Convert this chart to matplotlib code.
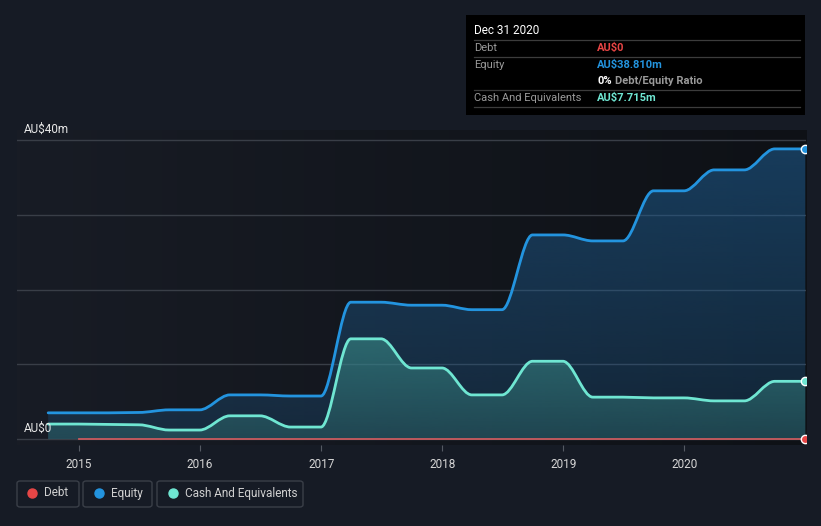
import numpy as np
import matplotlib
matplotlib.use("Agg")
import matplotlib.pyplot as plt
from matplotlib.path import Path
from matplotlib.patches import PathPatch, FancyBboxPatch, Rectangle
from matplotlib.lines import Line2D
from matplotlib.colors import to_rgb
import matplotlib.dates as mdates

plt.rcParams['font.family'] = ['Roboto', 'DejaVu Sans']

# ---------------- data ----------------
dates = ["2014-09-30", "2014-12-31", "2015-03-31", "2015-06-30", "2015-09-30", "2015-12-31",
         "2016-03-31", "2016-06-30", "2016-09-30", "2016-12-31", "2017-03-31", "2017-06-30",
         "2017-09-30", "2017-12-31", "2018-03-31", "2018-06-30", "2018-09-30", "2018-12-31",
         "2019-03-31", "2019-06-30", "2019-09-30", "2019-12-31", "2020-03-31", "2020-06-30",
         "2020-09-30", "2020-12-31"]
equity = [3.5, 3.5, 3.5, 3.55, 3.9, 3.9, 5.9, 5.9, 5.75, 5.75, 18.3, 18.3, 17.9, 17.9,
          17.3, 17.3, 27.3, 27.3, 26.5, 26.5, 33.2, 33.2, 36.0, 36.0, 38.81, 38.81]
cash = [2.0, 2.0, 1.95, 1.9, 1.2, 1.2, 3.1, 3.1, 1.6, 1.6, 13.4, 13.4, 9.5, 9.5,
        5.9, 5.9, 10.4, 10.4, 5.6, 5.6, 5.5, 5.5, 5.1, 5.1, 7.715, 7.715]
debt_dates = dates[1:]
debt = [0.0] * len(debt_dates)
year_ticks = [2015, 2016, 2017, 2018, 2019, 2020]
y_labels = {0: "AU$0", 40: "AU$40m"}
grid_values = [0, 10, 20, 30, 40]

# ---------------- style ----------------
BG = "#161b25"
EQ = "#2394df"
CASH = "#6fe6d2"
DEBT = "#e64646"
W, H = 821, 526

def d2n(s):
    return mdates.date2num(np.datetime64(s))

fig = plt.figure(figsize=(W / 100, H / 100), dpi=100, facecolor=BG)

def fx(px):
    return px / W

def fy(py):
    return 1 - py / H

ax_left, ax_right, ax_top, ax_bot = 17, 806, 130, 445
ax = fig.add_axes([fx(ax_left), fy(ax_bot), fx(ax_right - ax_left), (ax_bot - ax_top) / H])
ax.set_facecolor(BG)
for s in ax.spines.values():
    s.set_visible(False)

px_per_m = (439 - 140) / 40.0
ymin = -(ax_bot - 439) / px_per_m
ymax = (439 - ax_top) / px_per_m
xn = np.array([d2n(d) for d in dates])
px_per_day = (684.3 - 79.0) / (d2n("2020-01-01") - d2n("2015-01-01"))
x_start = d2n("2015-01-01") - (79.0 - ax_left) / px_per_day
x_stop = x_start + (ax_right - ax_left) / px_per_day

# background horizontal gradient
c0 = np.array(to_rgb("#181c25"))
c1 = np.array(to_rgb("#0e1116"))
t = np.linspace(0, 1, 256)
bg = (c0[None, :] * (1 - t[:, None]) + c1[None, :] * t[:, None])[None, :, :]
ax.imshow(bg, extent=[0, 1, 0, 1], transform=ax.transAxes, aspect='auto', zorder=0)

# grid
for g in grid_values:
    ax.axhline(g, color="#393e47", lw=1.0, zorder=1)

def curve_path(x, y, close=False):
    verts = [(x[0], y[0])]
    codes = [Path.MOVETO]
    for i in range(len(x) - 1):
        dx = (x[i + 1] - x[i]) / 3.0
        verts += [(x[i] + dx, y[i]), (x[i + 1] - dx, y[i + 1]), (x[i + 1], y[i + 1])]
        codes += [Path.CURVE4] * 3
    if close:
        verts += [(x[-1], 0), (x[0], 0), (x[0], y[0])]
        codes += [Path.LINETO, Path.LINETO, Path.CLOSEPOLY]
    return Path(verts, codes)

def gradient_fill(x, y, color, a_top, a_bot, z):
    patch = PathPatch(curve_path(x, y, close=True), facecolor='none', edgecolor='none', zorder=z)
    ax.add_patch(patch)
    rgb = np.array(to_rgb(color))
    n = 256
    alpha = np.linspace(a_bot, a_top, n)
    img = np.zeros((n, 1, 4))
    img[:, 0, :3] = rgb
    img[:, 0, 3] = alpha
    top = max(y)
    im = ax.imshow(img, extent=[x[0], x[-1], 0, top], origin='lower', aspect='auto', zorder=z)
    im.set_clip_path(patch)

eq = np.array(equity)
ca = np.array(cash)
gradient_fill(xn, eq, "#1f5f94", 0.55, 0.25, 2)
gradient_fill(xn, ca, "#3a8c88", 0.6, 0.3, 3)

ax.add_patch(PathPatch(curve_path(xn, eq), facecolor='none', edgecolor=EQ, lw=2.0, zorder=5,
                       capstyle='round', joinstyle='round'))
ax.add_patch(PathPatch(curve_path(xn, ca), facecolor='none', edgecolor=CASH, lw=2.0, zorder=6,
                       capstyle='round', joinstyle='round'))
dn = np.array([d2n(d) for d in debt_dates])
ax.plot(dn, debt, color="#c95a5e", lw=1.3, zorder=7)

# end markers
ax.plot([xn[-1]], [eq[-1]], 'o', ms=6, mfc=EQ, mec='white', mew=1.0, zorder=9, clip_on=True)
ax.plot([xn[-1]], [ca[-1]], 'o', ms=6, mfc=CASH, mec='white', mew=1.0, zorder=9, clip_on=True)
ax.plot([dn[-1]], [debt[-1]], 'o', ms=6, mfc=DEBT, mec='white', mew=1.0, zorder=9, clip_on=True)

ax.set_xlim(x_start, x_stop)
ax.set_ylim(ymin, ymax)
ax.set_yticks([])
ticks = [d2n(f"{y}-01-01") for y in year_ticks]
ax.set_xticks(ticks)
ax.set_xticklabels([str(y) for y in year_ticks], color="#d6d6d6", fontsize=8.5)
ax.tick_params(axis='x', length=4, width=0.8, color="#555a63", pad=5)
ax.xaxis.set_ticks_position('bottom')

# y labels
for v, lab in y_labels.items():
    py = 439 - v * px_per_m - 11
    fig.text(fx(24), fy(py), lab, color="#e8e8e8", fontsize=8.5, ha='left', va='center')

# ---------------- tooltip ----------------
fig.patches.append(Rectangle((fx(466), fy(115)), fx(805 - 466), (115 - 15) / H,
                             transform=fig.transFigure, facecolor="#000000", edgecolor='none', zorder=10))
fig.text(fx(474), fy(31), "Dec 31 2020", color="white", fontsize=8.5, ha='left', va='center', zorder=11)
for ly in [40, 57, 90, 107]:
    fig.add_artist(Line2D([fx(474), fx(800)], [fy(ly), fy(ly)], color="#3c3c3c", lw=0.9, zorder=11))
LBL = "#9a9a9a"
fig.text(fx(474), fy(48), "Debt", color=LBL, fontsize=8, ha='left', va='center', zorder=11)
fig.text(fx(597), fy(48), "AU$0", color="#e84545", fontsize=8, fontweight='bold', ha='left', va='center', zorder=11)
fig.text(fx(474), fy(65), "Equity", color=LBL, fontsize=8, ha='left', va='center', zorder=11)
fig.text(fx(597), fy(65), "AU$38.810m", color=EQ, fontsize=8, fontweight='bold', ha='left', va='center', zorder=11)
fig.text(fx(597), fy(81), "0%", color="white", fontsize=8, fontweight='bold', ha='left', va='center', zorder=11)
fig.text(fx(615), fy(81), "Debt/Equity Ratio", color=LBL, fontsize=8, fontweight='bold', ha='left', va='center', zorder=11)
fig.text(fx(474), fy(98), "Cash And Equivalents", color=LBL, fontsize=8, ha='left', va='center', zorder=11)
fig.text(fx(597), fy(98), "AU$7.715m", color=CASH, fontsize=8, fontweight='bold', ha='left', va='center', zorder=11)

# ---------------- legend ----------------
legend_items = [("Debt", DEBT, 17, 79, 32, 44),
                ("Equity", EQ, 83, 152, 99, 111),
                ("Cash And Equivalents", CASH, 157, 303, 173, 185)]
for name, col, x0, x1, dotx, tx in legend_items:
    box = FancyBboxPatch((fx(x0), fy(507)), fx(x1 - x0), (507 - 481) / H,
                         boxstyle="round,pad=0,rounding_size=0.004", transform=fig.transFigure,
                         facecolor='none', edgecolor="#3a3f48", lw=1.0)
    fig.patches.append(box)
    fig.add_artist(Line2D([fx(dotx)], [fy(493)], marker='o', ms=6.5, color=col, mec=col, lw=0))
    fig.text(fx(tx), fy(493), name, color="#d0d0d0", fontsize=8.5, ha='left', va='center')

fig.savefig("out.png", dpi=100, facecolor=BG)
